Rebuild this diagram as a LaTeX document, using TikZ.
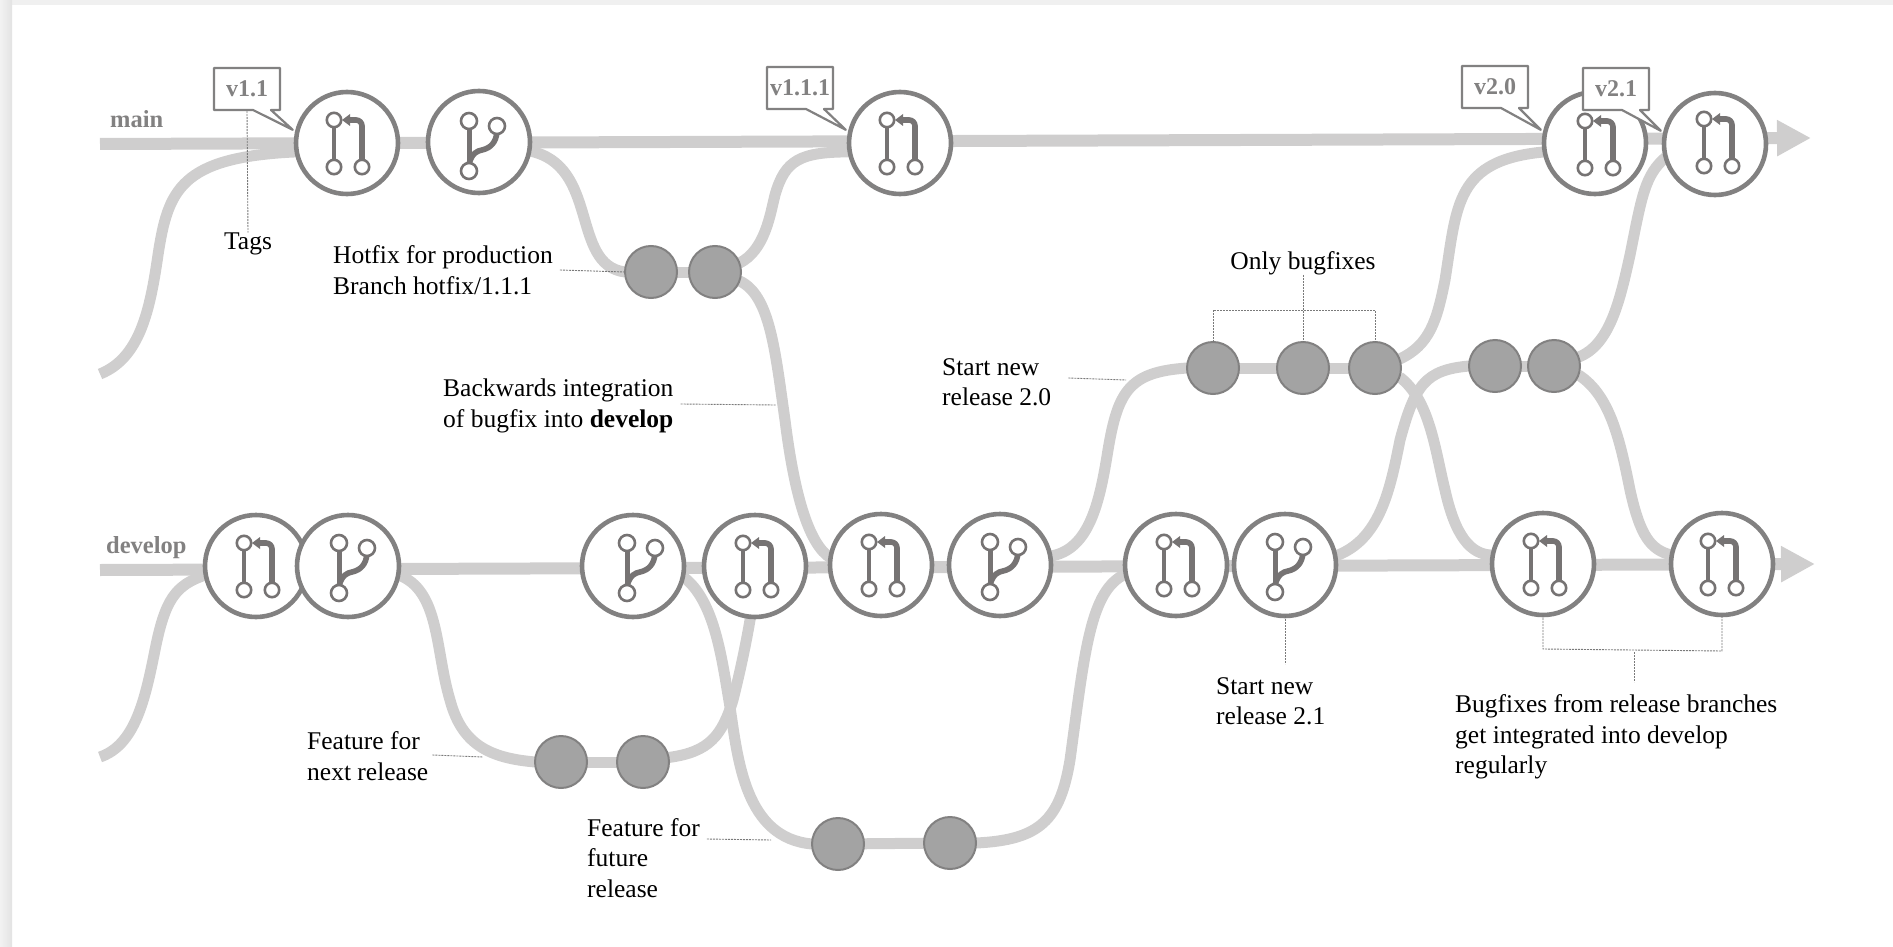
\documentclass[tikz,border=0pt]{standalone}
\usepackage{fontspec}
\setmainfont{Liberation Serif}
\usetikzlibrary{arrows.meta,shapes.callouts}
\pgfdeclarelayer{back}
\pgfsetlayers{back,main}
\definecolor{flowgrey}{HTML}{CFCECE}
\definecolor{ringgrey}{HTML}{828181}
\definecolor{icongrey}{HTML}{767373}
\definecolor{dotgrey}{HTML}{A3A3A3}
\definecolor{leadgrey}{HTML}{7A7A7A}
\tikzset{
  flow/.style={draw=flowgrey,line width=11pt},
  trunk/.style={draw=flowgrey,line width=12pt,-{Triangle[length=34pt,width=34pt]}},
  ring/.style={circle,draw=ringgrey,line width=4.6pt,fill=white,minimum size=102pt,inner sep=0pt,outer sep=0pt},
  commit/.style={circle,draw=ringgrey,line width=2pt,fill=dotgrey,minimum size=52pt,inner sep=0pt,outer sep=0pt},
  tagbox/.style={rectangle callout,draw=ringgrey,line width=2.2pt,line join=round,fill=white,minimum width=66pt,minimum height=42pt,inner sep=0pt,
     callout pointer width=18pt,text=ringgrey,font=\fontsize{24}{28}\selectfont\bfseries},
  branchname/.style={text=ringgrey,anchor=west,inner sep=0pt,font=\fontsize{24.5}{28}\selectfont\bfseries},
  note/.style={anchor=west,align=left,inner sep=0pt,text=black,font=\fontsize{25.5}{30.5}\selectfont},
  leader/.style={draw=leadgrey,line width=0.9pt,dash pattern=on 2pt off 1pt},
  iconline/.style={draw=icongrey,line cap=butt},
  iconhole/.style={draw=icongrey,fill=white,line width=2.6pt},
  mergeicon/.pic={
    \draw[iconline,line width=4.4pt] (-12,-23) -- (-12,24);
    \draw[iconline,line width=5.6pt,rounded corners=6pt] (16,24) -- (16,-23) -- (0,-23);
    \fill[icongrey] (-4,-23) -- (4,-29) -- (4,-17) -- cycle;
    \draw[iconhole] (-12,-23) circle (7.2);
    \draw[iconhole] (-12,24) circle (7.2);
    \draw[iconhole] (16,24) circle (7.2);
  },
  branchicon/.pic={
    \draw[iconline,line width=5pt] (-10,-23) -- (-10,27);
    \draw[iconline,line width=5.6pt] (-10,20) .. controls (-7,9) and (-2,7) .. (3,6) .. controls (12,4) and (17,-2) .. (18,-12);
    \draw[iconhole] (-10,-23) circle (8);
    \draw[iconhole] (18,-18) circle (8);
    \draw[iconhole] (-10,27) circle (8);
  }
}
\begin{document}
\begin{tikzpicture}[x=1pt,y=-1pt]
\useasboundingbox (0,0) rectangle (1893,947);
% commits with icons
\node[ring] (c1) at (347,143) {};
\node[ring] (c2) at (479,142) {};
\node[ring] (c3) at (900,143) {};
\node[ring] (c4) at (1595,143) {};
\node[ring] (c5) at (1715,144) {};
\node[ring] (d1) at (256,566) {};
\node[ring] (d2) at (348,566) {};
\node[ring] (d3) at (633,566) {};
\node[ring] (d4) at (755,566) {};
\node[ring] (d5) at (881,565) {};
\node[ring] (d6) at (1000,565) {};
\node[ring] (d7) at (1176,565) {};
\node[ring] (d8) at (1285,565) {};
\node[ring] (d9) at (1543,564) {};
\node[ring] (d10) at (1722,564) {};
\pic at ([xshift=-1pt]c1) {mergeicon};
\pic at ([yshift=-2pt]c2) {branchicon};
\pic at ([xshift=-1pt]c3) {mergeicon};
\pic at ([xshift=2pt,yshift=-1pt]c4) {mergeicon};
\pic at ([xshift=1pt,yshift=2pt]c5) {mergeicon};
\pic at (d1) {mergeicon};
\pic at ([xshift=1pt]d2) {branchicon};
\pic at ([xshift=4pt]d3) {branchicon};
\pic at (d4) {mergeicon};
\pic at (d5) {mergeicon};
\pic at (d6) {branchicon};
\pic at (d7) {mergeicon};
\pic at (d8) {branchicon};
\pic at (d9) {mergeicon};
\pic at ([xshift=-2pt]d10) {mergeicon};
% plain commits
\node[commit] (h1) at (651,272) {};
\node[commit] (h2) at (715,272) {};
\node[commit] (r1) at (1213,368) {};
\node[commit] (r2) at (1303,368) {};
\node[commit] (r3) at (1375,368) {};
\node[commit] (s1) at (1495,366) {};
\node[commit] (s2) at (1554,366) {};
\node[commit] (f1) at (561,762) {};
\node[commit] (f2) at (643,762) {};
\node[commit] (g1) at (838,844) {};
\node[commit] (g2) at (950,843) {};
% tags
\node[tagbox,callout absolute pointer={([xshift=-5pt]c1.165)}] (t1) at (247,89) {v1.1};
\node[tagbox,callout absolute pointer={([xshift=-5pt]c3.165)}] (t2) at (800,88) {v1.1.1};
\node[tagbox,callout absolute pointer={([xshift=-5pt]c4.165)}] (t3) at (1495,87) {v2.0};
\node[tagbox,callout absolute pointer={([xshift=-5pt]c5.165)}] (t4) at (1616,89) {v2.1};
% branch names
\node[branchname] (mainname) at (110,119) {main};
\node[branchname] (devname) at (106,548) {develop};
% free ends
\coordinate (mstart) at (100,144);
\coordinate (mend) at (1811,138);
\coordinate (dstart) at (100,570);
\coordinate (dend) at (1815,564);
\coordinate (mfeed) at (100,374);
\coordinate (dfeed) at (100,757);
% flows
\begin{pgfonlayer}{back}
\fill[gray!12] (0,0) rectangle (1893,5);
\shade[left color=gray!10,right color=gray!22] (0,0) rectangle (12,947);
\draw[trunk] (mstart) -- (mend);
\draw[trunk] (dstart) -- (dend);
\draw[flow] (mfeed) .. controls (140,358) and (150,310) .. (158,255) .. controls (168,190) and (180,157) .. (c1.190);
\draw[flow] (c2.-10) .. controls (600,165) and (570,265) .. (h1.180);
\draw[flow] (h1) -- (h2);
\draw[flow] (h2.20) .. controls (765,250) and (770,215) .. (775,195) .. controls (785,160) and (800,152) .. (c3.190);
\draw[flow] (h2.-20) .. controls (770,295) and (775,350) .. (785,420) .. controls (795,500) and (810,545) .. (d5.172);
\draw[flow] (dfeed) .. controls (135,745) and (145,700) .. (155,650) .. controls (165,600) and (175,585) .. (d1.190);
\draw[flow] (d2.-10) .. controls (440,590) and (435,650) .. (450,700) .. controls (462,745) and (490,758) .. (f1.180);
\draw[flow] (f1) -- (f2);
\draw[flow] (f2.10) .. controls (710,752) and (722,735) .. (733,700) .. controls (738,680) and (745,650) .. (d4.-95);
\draw[flow] (d3.-12) .. controls (715,600) and (722,660) .. (730,707) .. controls (738,760) and (745,838) .. (g1.180);
\draw[flow] (g1) -- (g2);
\draw[flow] (g2.0) .. controls (1040,840) and (1060,820) .. (1070,760) .. controls (1085,650) and (1090,590) .. (d7.190);
\draw[flow] (d6.10) .. controls (1090,550) and (1100,500) .. (1108,450) .. controls (1118,390) and (1130,372) .. (r1.180);
\draw[flow] (r1) -- (r2);
\draw[flow] (r2) -- (r3);
\draw[flow] (r3.20) .. controls (1430,345) and (1437,320) .. (1445,280) .. controls (1457,205) and (1455,160) .. (c4.190);
\draw[flow] (r3.-20) .. controls (1430,400) and (1435,450) .. (1445,490) .. controls (1455,535) and (1470,555) .. (d9.170);
\draw[flow] (d8.10) .. controls (1380,540) and (1390,490) .. (1400,440) .. controls (1415,385) and (1425,370) .. (s1.180);
\draw[flow] (s1) -- (s2);
\draw[flow] (s2.20) .. controls (1610,345) and (1620,300) .. (1630,255) .. controls (1642,195) and (1645,175) .. (c5.195);
\draw[flow] (s2.-20) .. controls (1610,395) and (1620,440) .. (1630,490) .. controls (1640,535) and (1650,550) .. (d10.170);
\end{pgfonlayer}
% notes
\node[note,anchor=center] (ntags) at (248,244) {Tags};
\node[note] (nhot) at (333,270) {Hotfix for production\\Branch hotfix/1.1.1};
\node[note] (nback) at (443,406) {Backwards integration\\of bugfix into \textbf{develop}};
\node[note] (nrel) at (942,382) {Start new\\release 2.0};
\node[note,anchor=center] (nonly) at (1303,263) {Only bugfixes};
\node[note] (nnext) at (307,756) {Feature for\\next release};
\node[note] (nfut) at (587,858) {Feature for\\future\\release};
\node[note] (n21) at (1216,701) {Start new\\release 2.1};
\node[note] (nfix) at (1455,737) {Bugfixes from release branches\\get integrated into develop\\regularly};
% leaders
\coordinate (lback) at (776,405);
\coordinate (lrel) at (1126,380);
\coordinate (lnext) at (483,757);
\coordinate (lfut) at (771,840);
\coordinate (lfixa) at (1634,652);
\coordinate (lfixb) at (1634,682);
\coordinate (lhot) at (1285,664);
\draw[leader] (t1.south) -- (ntags.north);
\draw[leader] ([xshift=7pt]nhot.east) -- (h1.180);
\draw[leader] ([xshift=7pt,yshift=2pt]nback.east) -- (lback);
\draw[leader] ([xshift=17pt,yshift=4pt]nrel.east) -- (lrel);
\draw[leader] (nonly.south) -- (r2.north);
\draw[leader] (r1.north) -- ++(0,-32) -- ([yshift=32pt]r3.north) -- (r3.north);
\draw[leader] ([xshift=4pt,yshift=1pt]nnext.east) -- (lnext);
\draw[leader] ([xshift=7pt,yshift=19pt]nfut.east) -- (lfut);
\draw[leader] (d8.south) -- (lhot);
\draw[leader] (d9.south) -- ++(0,34) -- ([yshift=-36pt]d10.south) -- (d10.south);
\draw[leader] (lfixa) -- (lfixb);
\end{tikzpicture}
\end{document}
